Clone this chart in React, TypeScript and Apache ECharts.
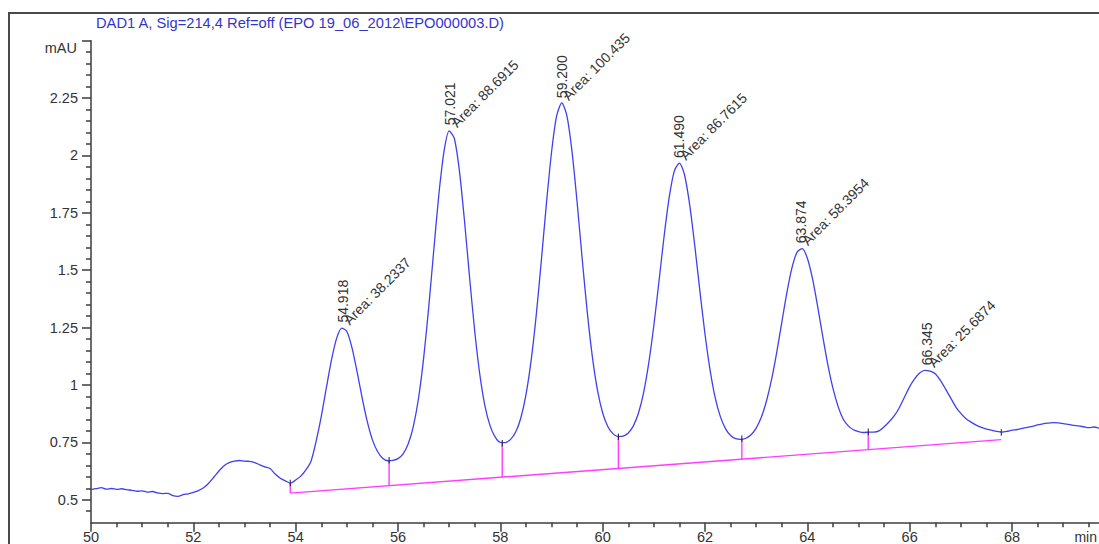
import React, { useEffect, useRef } from 'react';
import * as echarts from 'echarts';

// Chromatogram trace: [retention time (min), absorbance (mAU)]
const signal: [number, number][] = [
  [50.0, 0.544], [50.1, 0.548], [50.2, 0.553], [50.3, 0.546], [50.4, 0.549],
  [50.5, 0.545], [50.6, 0.548], [50.7, 0.544], [50.8, 0.541], [50.9, 0.537],
  [51.0, 0.539], [51.1, 0.533], [51.2, 0.536], [51.3, 0.530], [51.4, 0.527],
  [51.5, 0.528], [51.6, 0.518], [51.7, 0.515], [51.8, 0.522], [51.9, 0.526],
  [52.0, 0.532], [52.1, 0.540], [52.2, 0.552], [52.3, 0.572], [52.4, 0.598],
  [52.5, 0.625], [52.6, 0.648], [52.7, 0.662], [52.8, 0.668], [52.9, 0.671],
  [53.0, 0.668], [53.1, 0.667], [53.2, 0.662], [53.3, 0.652], [53.4, 0.643],
  [53.5, 0.636], [53.6, 0.612], [53.7, 0.594], [53.8, 0.582], [53.9, 0.572],
  [54.0, 0.586], [54.1, 0.603], [54.2, 0.630], [54.3, 0.668], [54.4, 0.755],
  [54.5, 0.862], [54.6, 0.988], [54.7, 1.109], [54.8, 1.203], [54.9, 1.248],
  [55.0, 1.233], [55.1, 1.163], [55.2, 1.058], [55.3, 0.943], [55.4, 0.840],
  [55.5, 0.761], [55.6, 0.710], [55.7, 0.681], [55.8, 0.670], [55.9, 0.672],
  [56.0, 0.679], [56.1, 0.700], [56.2, 0.744], [56.3, 0.820], [56.4, 0.941],
  [56.5, 1.115], [56.6, 1.338], [56.7, 1.590], [56.8, 1.833], [56.9, 2.019],
  [57.0, 2.107], [57.1, 2.075], [57.2, 1.933], [57.3, 1.714], [57.4, 1.466],
  [57.5, 1.233], [57.6, 1.044], [57.7, 0.908], [57.8, 0.822], [57.9, 0.773],
  [58.0, 0.750], [58.1, 0.749], [58.2, 0.763], [58.3, 0.795], [58.4, 0.856],
  [58.5, 0.957], [58.6, 1.104], [58.7, 1.301], [58.8, 1.539], [58.9, 1.789],
  [59.0, 2.013], [59.1, 2.172], [59.2, 2.229], [59.3, 2.174], [59.4, 2.019],
  [59.5, 1.797], [59.6, 1.549], [59.7, 1.315], [59.8, 1.120], [59.9, 0.975],
  [60.0, 0.878], [60.1, 0.819], [60.2, 0.788], [60.3, 0.775], [60.4, 0.777],
  [60.5, 0.791], [60.6, 0.822], [60.7, 0.878], [60.8, 0.967], [60.9, 1.095],
  [61.0, 1.259], [61.1, 1.451], [61.2, 1.647], [61.3, 1.817], [61.4, 1.932],
  [61.5, 1.967], [61.6, 1.915], [61.7, 1.786], [61.8, 1.607], [61.9, 1.409],
  [62.0, 1.221], [62.1, 1.064], [62.2, 0.944], [62.3, 0.862], [62.4, 0.810],
  [62.5, 0.780], [62.6, 0.766], [62.7, 0.763], [62.8, 0.768], [62.9, 0.783],
  [63.0, 0.812], [63.1, 0.859], [63.2, 0.929], [63.3, 1.023], [63.4, 1.140],
  [63.5, 1.272], [63.6, 1.402], [63.7, 1.511], [63.8, 1.579], [63.9, 1.594],
  [64.0, 1.552], [64.1, 1.464], [64.2, 1.344], [64.3, 1.213], [64.4, 1.089],
  [64.5, 0.986], [64.6, 0.907], [64.7, 0.852], [64.8, 0.822], [64.9, 0.805],
  [65.0, 0.797], [65.1, 0.793], [65.2, 0.795], [65.3, 0.795], [65.4, 0.800],
  [65.5, 0.818], [65.6, 0.840], [65.7, 0.866], [65.8, 0.902], [65.9, 0.948],
  [66.0, 0.993], [66.1, 1.028], [66.2, 1.053], [66.3, 1.064], [66.4, 1.060],
  [66.5, 1.049], [66.6, 1.020], [66.7, 0.983], [66.8, 0.944], [66.9, 0.905],
  [67.0, 0.876], [67.1, 0.853], [67.2, 0.838], [67.3, 0.825], [67.4, 0.815],
  [67.5, 0.808], [67.6, 0.803], [67.7, 0.798], [67.8, 0.795], [67.9, 0.798],
  [68.0, 0.803], [68.1, 0.806], [68.2, 0.811], [68.3, 0.815], [68.4, 0.820],
  [68.5, 0.826], [68.6, 0.831], [68.7, 0.834], [68.8, 0.836], [68.9, 0.835],
  [69.0, 0.832], [69.1, 0.828], [69.2, 0.824], [69.3, 0.822], [69.4, 0.818],
  [69.5, 0.814], [69.6, 0.817], [69.7, 0.812],
];

// Integrated peaks
const peakTimes = [54.918, 57.021, 59.2, 61.49, 63.874, 66.345];
const peakHeights = [1.25, 2.11, 2.228, 1.967, 1.596, 1.064];
const peakAreas = ['38.2337', '88.6915', '100.435', '86.7615', '58.3954', '25.6874'];

// Integration baseline and the drop lines between peaks: [time, signal, baseline]
const baseline: [number, number][] = [[53.894, 0.529], [67.79, 0.762]];
const dropLines: [number, number, number][] = [
  [53.894, 0.572, 0.529],
  [55.826, 0.671, 0.561],
  [58.037, 0.745, 0.599],
  [60.307, 0.773, 0.637],
  [62.72, 0.765, 0.677],
  [65.19, 0.795, 0.718],
];
// Peak start / end marks on the trace
const peakMarks: [number, number][] = [
  [53.894, 0.572], [55.826, 0.671], [58.037, 0.745], [60.307, 0.773],
  [62.72, 0.765], [65.19, 0.795], [67.79, 0.792],
];

// Axis ticks
const xMajorTicks = [50, 52, 54, 56, 58, 60, 62, 64, 66, 68];
const xMinorTicks = [
  50.5, 51, 51.5, 52.5, 53, 53.5, 54.5, 55, 55.5, 56.5, 57, 57.5, 58.5, 59, 59.5,
  60.5, 61, 61.5, 62.5, 63, 63.5, 64.5, 65, 65.5, 66.5, 67, 67.5, 68.5, 69, 69.5,
];
const yLabelTicks = [0.5, 0.75, 1, 1.25, 1.5, 1.75, 2, 2.25];
const yMajorTicks = [0.5, 0.75, 1, 1.25, 1.5, 1.75, 2, 2.25, 2.5];
const yMinorTicks = [
  0.45, 0.55, 0.6, 0.65, 0.7, 0.8, 0.85, 0.9, 0.95, 1.05, 1.1, 1.15, 1.2,
  1.3, 1.35, 1.4, 1.45, 1.55, 1.6, 1.65, 1.7, 1.8, 1.85, 1.9, 1.95,
  2.05, 2.1, 2.15, 2.2, 2.3, 2.35, 2.4, 2.45,
];

const TITLE = 'DAD1 A, Sig=214,4 Ref=off (EPO 19_06_2012\\EPO000003.D)';
const FONT = '"Liberation Sans", Arial, Helvetica, sans-serif';
const AXIS_COLOR = '#3c3c3c';
const TEXT_COLOR = '#333333';
const TRACE_COLOR = '#4040f0';
const BASE_COLOR = '#ff3cff';

const X_MIN = 50;
const X_MAX = 69.7;
const Y_MIN = 0.4;
const Y_MAX = 2.5;

export default function App() {
  const ref = useRef<HTMLDivElement>(null);

  useEffect(() => {
    if (!ref.current) return;
    const chart = echarts.init(ref.current, undefined, { renderer: 'svg' });

    const baseX = {
      type: 'value' as const,
      min: X_MIN,
      max: X_MAX,
      position: 'bottom' as const,
      splitLine: { show: false },
    };
    const baseY = {
      type: 'value' as const,
      min: Y_MIN,
      max: Y_MAX,
      position: 'left' as const,
      splitLine: { show: false },
    };

    chart.setOption({
      animation: false,
      grid: { left: 91, right: 0, top: 40.7, bottom: 21.3, outerBoundsMode: 'none' },
      xAxis: [
        {
          ...baseX,
          axisLine: { show: true, lineStyle: { color: AXIS_COLOR, width: 1.5 } },
          axisTick: { show: true, customValues: xMajorTicks, length: 9, lineStyle: { color: AXIS_COLOR, width: 1.5 } },
          axisLabel: {
            show: true,
            customValues: xMajorTicks,
            margin: 7,
            color: TEXT_COLOR,
            fontSize: 14.5,
            fontFamily: FONT,
            showMinLabel: true,
            showMaxLabel: true,
          },
        },
        {
          ...baseX,
          axisLine: { show: false },
          axisTick: { show: true, customValues: xMinorTicks, length: 4.5, lineStyle: { color: AXIS_COLOR, width: 1.5 } },
          axisLabel: { show: false },
        },
      ],
      yAxis: [
        {
          ...baseY,
          axisLine: { show: true, lineStyle: { color: AXIS_COLOR, width: 1.5 } },
          axisTick: { show: true, customValues: yMajorTicks, length: 9, lineStyle: { color: AXIS_COLOR, width: 1.5 } },
          axisLabel: {
            show: true,
            customValues: yLabelTicks,
            margin: 13,
            color: TEXT_COLOR,
            fontSize: 14.5,
            fontFamily: FONT,
            formatter: (v: number) => String(v),
          },
        },
        {
          ...baseY,
          axisLine: { show: false },
          axisTick: { show: true, customValues: yMinorTicks, length: 5, lineStyle: { color: AXIS_COLOR, width: 1.5 } },
          axisLabel: { show: false },
        },
      ],
      graphic: [
        {
          type: 'line',
          shape: { x1: 9, y1: 13, x2: 9, y2: 544 },
          style: { stroke: '#4a4a4a', lineWidth: 2 },
        },
        {
          type: 'line',
          shape: { x1: 8, y1: 13, x2: 1099, y2: 13 },
          style: { stroke: '#4a4a4a', lineWidth: 2 },
        },
        {
          type: 'text',
          x: 300,
          y: 23,
          style: {
            text: TITLE,
            align: 'center',
            verticalAlign: 'middle',
            fill: '#3434cc',
            font: `14.7px ${FONT}`,
          },
        },
        {
          type: 'text',
          x: 77,
          y: 48,
          style: {
            text: 'mAU',
            align: 'right',
            verticalAlign: 'middle',
            fill: TEXT_COLOR,
            font: `14.5px ${FONT}`,
          },
        },
        {
          type: 'text',
          x: 1097,
          y: 537,
          style: {
            text: 'min',
            align: 'right',
            verticalAlign: 'middle',
            fill: TEXT_COLOR,
            font: `14px ${FONT}`,
          },
        },
      ],
      series: [
        {
          type: 'line',
          name: 'DAD1 A',
          data: signal,
          showSymbol: false,
          smooth: 0.25,
          lineStyle: { color: TRACE_COLOR, width: 1.3 },
          silent: true,
          z: 3,
        },
        {
          type: 'line',
          name: 'baseline',
          data: baseline,
          showSymbol: false,
          lineStyle: { color: BASE_COLOR, width: 1.4 },
          silent: true,
          z: 2,
        },
        {
          type: 'custom',
          name: 'drops',
          data: dropLines,
          clip: false,
          silent: true,
          z: 2,
          renderItem: (_params: any, api: any) => {
            const a = api.coord([api.value(0), api.value(1)]);
            const b = api.coord([api.value(0), api.value(2)]);
            return {
              type: 'line',
              shape: { x1: a[0], y1: a[1], x2: b[0], y2: b[1] },
              style: { stroke: BASE_COLOR, lineWidth: 1.4 },
            };
          },
        },
        {
          type: 'custom',
          name: 'marks',
          data: peakMarks,
          clip: false,
          silent: true,
          z: 4,
          renderItem: (_params: any, api: any) => {
            const p = api.coord([api.value(0), api.value(1)]);
            return {
              type: 'line',
              shape: { x1: p[0], y1: p[1] - 3.5, x2: p[0], y2: p[1] + 3 },
              style: { stroke: '#1a1a1a', lineWidth: 1 },
            };
          },
        },
        {
          type: 'custom',
          name: 'peak labels',
          data: peakTimes.map((t, i) => [t, peakHeights[i]]),
          clip: false,
          silent: true,
          z: 5,
          renderItem: (params: any, api: any) => {
            const i = params.dataIndex;
            const p = api.coord([api.value(0), api.value(1)]);
            return {
              type: 'group',
              children: [
                {
                  type: 'text',
                  x: p[0],
                  y: p[1] - 5,
                  rotation: Math.PI / 2,
                  style: {
                    text: peakTimes[i].toFixed(3),
                    align: 'left',
                    verticalAlign: 'middle',
                    fill: TEXT_COLOR,
                    font: `14px ${FONT}`,
                  },
                },
                {
                  type: 'text',
                  x: p[0] + 3.5,
                  y: p[1] - 5.5,
                  rotation: Math.PI / 4,
                  style: {
                    text: 'Area: ' + peakAreas[i],
                    align: 'left',
                    verticalAlign: 'middle',
                    fill: TEXT_COLOR,
                    font: `14px ${FONT}`,
                  },
                },
              ],
            };
          },
        },
      ],
    });

    return () => {
      chart.dispose();
    };
  }, []);

  return (
    <div
      ref={ref}
      style={{ position: 'absolute', left: 0, top: 0, width: 1099, height: 544, background: '#ffffff' }}
    />
  );
}
